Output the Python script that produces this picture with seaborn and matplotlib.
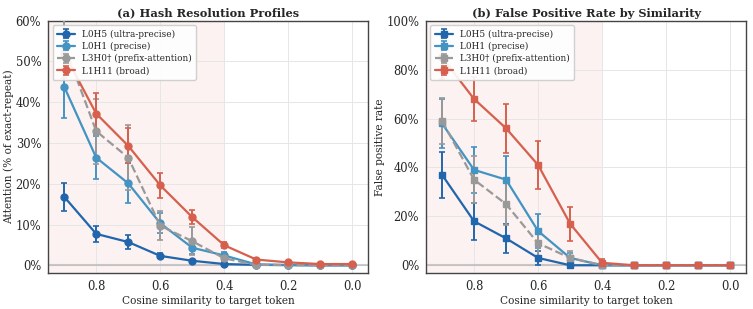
"""Hash resolution profiles and false positive rates by cosine similarity."""
import numpy as np
import seaborn as sns
import matplotlib.pyplot as plt
from matplotlib.ticker import PercentFormatter

similarity = [0.9, 0.8, 0.7, 0.6, 0.5, 0.4, 0.3, 0.2, 0.1, 0.0]

heads = ["L0H5 (ultra-precise)", "L0H1 (precise)", "L3H0† (prefix-attention)", "L1H11 (broad)"]
colors = ["#2166ac", "#4393c3", "#999999", "#d6604d"]
styles = ["-", "-", "--", "-"]

# (a) attention as % of exact-repeat attention
attn_l0h5 = [16.8, 7.7, 5.7, 2.3, 1.1, 0.3, 0.1, 0.05, 0.0, 0.0]
attn_l0h5_err = [3.5, 2.0, 1.7, 0.6, 0.3, 0.2, 0.1, 0.05, 0.0, 0.0]
attn_l0h1 = [43.8, 26.4, 20.1, 10.3, 4.3, 2.4, 0.2, 0.05, 0.0, 0.0]
attn_l0h1_err = [7.6, 5.2, 4.9, 2.5, 1.5, 0.8, 0.2, 0.05, 0.0, 0.0]
attn_l3h0 = [54.0, 32.9, 26.4, 9.7, 5.9, 1.7, 0.1, 0.05, 0.0, 0.0]
attn_l3h0_err = [8.0, 8.0, 8.0, 3.6, 3.4, 1.0, 0.1, 0.05, 0.0, 0.0]
attn_l1h11 = [52.0, 37.2, 29.3, 19.6, 11.8, 4.9, 1.4, 0.7, 0.3, 0.3]
attn_l1h11_err = [6.0, 5.0, 4.3, 3.0, 1.7, 0.7, 0.3, 0.2, 0.1, 0.1]

# (b) false positive rate (%)
fpr_l0h5 = [37.0, 18.0, 11.0, 3.0, 0.0, 0.0, 0.0, 0.0, 0.0, 0.0]
fpr_l0h5_err = [9.5, 7.5, 6.0, 3.0, 0.0, 0.0, 0.0, 0.0, 0.0, 0.0]
fpr_l0h1 = [58.0, 39.0, 35.0, 14.0, 3.0, 0.0, 0.0, 0.0, 0.0, 0.0]
fpr_l0h1_err = [10.0, 9.5, 9.5, 7.0, 2.0, 0.0, 0.0, 0.0, 0.0, 0.0]
fpr_l3h0 = [59.0, 35.0, 25.0, 9.0, 3.0, 0.0, 0.0, 0.0, 0.0, 0.0]
fpr_l3h0_err = [9.5, 9.5, 8.5, 5.5, 3.0, 0.0, 0.0, 0.0, 0.0, 0.0]
fpr_l1h11 = [85.0, 68.0, 56.0, 41.0, 17.0, 1.0, 0.0, 0.0, 0.0, 0.0]
fpr_l1h11_err = [9.0, 9.0, 10.0, 9.7, 7.0, 1.5, 0.0, 0.0, 0.0, 0.0]

attn = [(attn_l0h5, attn_l0h5_err), (attn_l0h1, attn_l0h1_err),
        (attn_l3h0, attn_l3h0_err), (attn_l1h11, attn_l1h11_err)]
fpr = [(fpr_l0h5, fpr_l0h5_err), (fpr_l0h1, fpr_l0h1_err),
       (fpr_l3h0, fpr_l3h0_err), (fpr_l1h11, fpr_l1h11_err)]

sns.set_theme(style="whitegrid")
plt.rcParams["font.family"] = ["DejaVu Serif"]

fig, axes = plt.subplots(1, 2, figsize=(7.53, 3.09), dpi=100)
fig.subplots_adjust(left=0.064, right=0.991, bottom=0.117, top=0.933, wspace=0.18)


def draw_panel(ax, series, marker, title, ylabel, ymax):
    ax.axvspan(0.4, 0.95, color="#d6604d", alpha=0.08, lw=0, zorder=0)
    ax.axhline(0, color="#aaaaaa", lw=1.5, alpha=0.6, zorder=1)
    for (vals, errs), label, color, ls in zip(series, heads, colors, styles):
        ax.errorbar(similarity, vals, yerr=errs, label=label, color=color,
                    ls=ls, marker=marker, markersize=5, lw=1.6,
                    capsize=2.5, capthick=1.2, elinewidth=1.4, zorder=3)
    ax.set_xlim(0.95, -0.05)
    ax.set_ylim(-ymax * 0.031, ymax)
    ax.set_xticks([0.8, 0.6, 0.4, 0.2, 0.0])
    ax.yaxis.set_major_formatter(PercentFormatter(decimals=0))
    ax.set_title(title, fontsize=8.2, fontweight="bold", pad=3)
    ax.set_xlabel("Cosine similarity to target token", fontsize=7.6, labelpad=2)
    ax.set_ylabel(ylabel, fontsize=7.6, labelpad=1)
    ax.tick_params(labelsize=8.3, pad=2, length=3, color="#444444")
    ax.grid(True, color="#e6e6e6", lw=0.7)
    for s in ax.spines.values():
        s.set_color("#444444")
        s.set_linewidth(1.0)
    ax.legend(loc="upper left", fontsize=6.4, frameon=True, framealpha=0.9,
              borderpad=0.5, labelspacing=0.35, handlelength=2.0)


draw_panel(axes[0], attn, "o", "(a) Hash Resolution Profiles",
           "Attention (% of exact-repeat)", 60)
draw_panel(axes[1], fpr, "s", "(b) False Positive Rate by Similarity",
           "False positive rate", 100)
axes[0].set_yticks(np.arange(0, 61, 10))
axes[1].set_yticks(np.arange(0, 101, 20))

fig.savefig("out.png", dpi=100)
